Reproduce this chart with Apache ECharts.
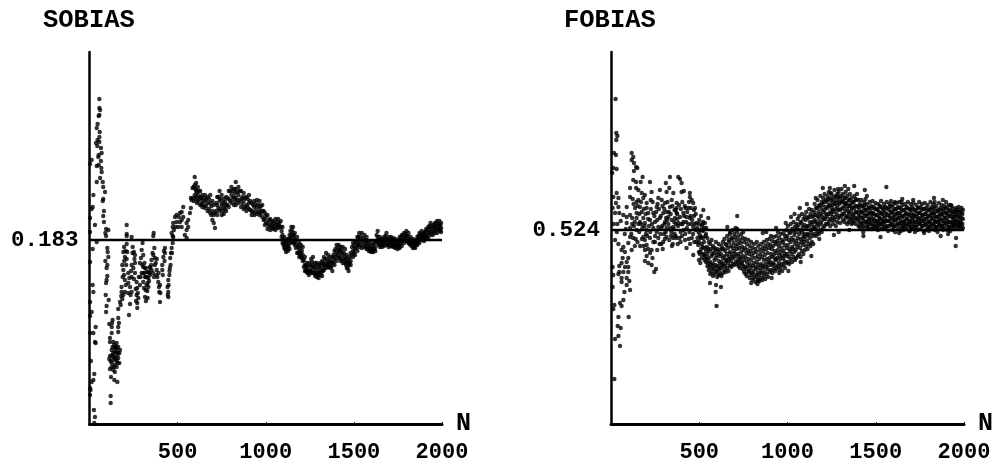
<!DOCTYPE html>
<html><head><meta charset="utf-8">
<style>html,body{margin:0;padding:0;background:#fff}#c{width:997px;height:470px}</style>
<script src="https://cdn.jsdelivr.net/npm/echarts@6/dist/echarts.min.js"></script>
</head><body><div id="c"></div>
<script>
// All bias values are in thousandths (183 = 0.183).
const panelTitles = ['SOBIAS', 'FOBIAS'];
const xTicks = [500, 1000, 1500, 2000];
const sobiasMean = 183;
const fobiasMean = 524;

const sobiasEarly = [
[56,324],[56,315],[60,313],[52,307],[56,308],[46,299],[41,295],[58,291],[56,286],[46,283],[37,280],[56,281],[44,277],[65,275],[52,268],[69,270],[50,266],[65,262],[12,263],[3,259],[41,257],[52,258],[67,255],[69,251],[60,245],[41,241],[75,241],[78,236],[88,231],[22,228],[78,224],[75,222],[18,216],[12,214],[82,212],[78,207],[3,205],[82,201],[31,198],[3,191],[94,194],[107,193],[90,190],[211,198],[211,189],[364,190],
[41,181],[18,174],[3,161],[18,138],[22,131],[3,121],[12,111],[3,107],[35,96],[3,90],[22,90],[31,81],[35,80],[8,62],[27,49],[22,43],[12,41],[3,35],[6,33],[3,28],[25,13],[31,6],[27,0],
[94,187],[101,175],[103,171],[107,166],[90,162],[101,158],[97,155],[101,147],[97,143],[94,140],[92,128],[109,123],[97,117],[94,111],
[131,103],[112,99],[128,100],[126,96],[126,90],[163,105],[167,100],[163,96],[163,91],[116,85],[116,81],[135,81],[154,80],[163,76],[144,75],[173,73],[126,73],[154,71],[135,70],[169,70],[116,67],[144,66],[163,65],[112,64],[135,63],[154,62],[169,60],[144,58],[126,56],[154,56],[116,54],[135,53],[144,51],[122,46],[141,43],[158,41],[120,27],[120,20],[150,76],[131,76],[158,68],[126,60],[138,56],[163,70],[144,71],[135,66],[154,75],[120,62],[128,68],[150,64],[140,78],[160,60],
[211,179],[196,176],[192,171],[214,171],[201,166],[211,164],[186,158],[192,153],[196,148],[201,143],[182,136],[182,131],[201,131],[192,128],[173,121],[177,118],[163,114],
[245,176],[252,171],[258,168],[239,158],[258,160],[249,155],[220,150],[239,146],[258,150],[220,140],[230,136],[220,130],[239,131],[267,141],[271,135],[286,138],[267,128],[277,125],[271,120],[271,115],[230,119],[224,108],
[301,180],[296,173],[305,168],[286,160],[305,156],[320,155],[296,150],[334,151],[315,146],[334,145],[305,141],[324,138],[334,136],[309,135],[315,126],[330,125],[320,122],[324,151],[315,155],[305,150],[320,146],[330,140],[340,150],[345,155],[312,160],
[368,175],[362,168],[371,165],[352,163],[371,158],[352,153],[381,153],[343,148],[366,146],[385,146],[390,141],[400,138],[396,131],[400,121],
[428,175],[428,170],[419,166],[413,158],[413,153],[460,158],[456,155],[453,148],[447,143],[443,136],[447,131],[447,126],[472,180],[466,175],[462,170],
[211,187],[239,186],[362,187],[472,187],[551,185],[541,188],
[532,216],[523,211],[513,210],[494,208],[485,206],[494,201],[475,200],[513,201],[532,206],[504,196],[479,193],[523,203],[466,190],[507,206],[488,196],[472,196],[523,196],[551,200],[551,193],[560,196],[560,203],[570,210],[579,223],
[205,172],[197,162],[208,158],[188,146],[206,138],[186,124],[180,127],[244,170],[255,164],[236,152],[252,144],[226,145],[233,128],[262,134],[280,146],[274,130],[264,122],[292,165],[300,158],[290,146],[310,150],[326,146],[338,142],[318,133],[328,132],[342,156],[358,170],[376,160],[360,150],[350,158],[378,148],[392,150],[402,130],[394,136],[382,164],[426,162],[422,172],[416,148],[444,128],[449,138],[454,152],[458,165],[468,170],[475,186]
];

// rows: N followed by the values read at that N
const sobiasBand = [
[575,225,215],[585,235,225],[597,246,238,228],[605,240,232,226],[615,236,228,222],[628,232,226,218],[640,228,222,216],[655,228,222,215],[670,226,220,212],[685,228,220,210],[697,222,212,203],[705,218,208,200],[712,210,195],[725,226,218,208],[738,232,222,212],[750,228,218,208],[762,224,216,209],[775,226,218,212],[790,232,224,216],[805,236,228,220],[820,234,226,218],[830,241,234,225,218],[845,236,228,220],[860,232,224,216],[875,230,222,214],[890,226,218,212],[905,228,220,214],[920,220,212,208],[935,222,216,208],[950,223,216,209],[965,222,214,208],[980,218,212,206],[995,210,204,198],[1010,208,200,194],[1025,204,198,193],[1040,202,197,194],[1055,204,198,193],[1070,204,198,195],[1085,202,196],[1095,196,188,180],[1105,186,180,175],[1115,180,174,171],[1125,184,176,172],[1135,188,180,174],[1145,196,188,181],[1155,196,188,180],[1165,190,184,178],[1178,186,178,170],[1190,180,172,166],[1200,178,170,166],[1210,176,168,162],[1222,166,158,152],[1232,160,154,151],[1245,160,152,148],[1258,164,156,150],[1268,166,158,150],[1280,160,152,147],[1290,160,150,146],[1300,158,150,145],[1310,160,152,148],[1320,162,154,147],[1330,166,158,153],[1342,170,160,155],[1354,168,160,156],[1365,166,158,155],[1378,166,160,152],[1390,172,164,158],[1402,178,170,162],[1414,178,172,165],[1425,176,170,162],[1437,176,168,160],[1450,174,166,160],[1460,168,160,155],[1470,164,158,152],[1482,170,162,158],[1495,180,172,166],[1507,180,174,168],[1520,186,178,172],[1530,190,182,176],[1545,190,182,175],[1560,188,182,176],[1572,186,180,174],[1585,182,176,172],[1598,180,174,171],[1610,178,173,171],[1622,182,176,172],[1635,192,186,180],[1648,186,180,176],[1660,184,180,176],[1672,186,181,177],[1685,190,184,178],[1698,186,180,176],[1710,186,181,177],[1722,185,180,176],[1735,184,179,175],[1748,182,178,174],[1760,186,180,175],[1772,188,182,177],[1785,190,185,180],[1798,192,187,182],[1810,190,184,180],[1822,186,181,178],[1835,184,179,175],[1848,182,178,175],[1860,186,181,178],[1872,190,185,180],[1885,192,187,183],[1898,190,186,182],[1910,194,188,184],[1922,196,190,185],[1935,200,194,188],[1948,198,192,188],[1960,200,195,190],[1972,202,196,190],[1985,202,197,192],[1995,200,195,191]
];

const sobiasBandFill = [
[591,236,222],[601,234,224],[610,231,220],[622,232,224],[634,225,219],[648,225,218],[662,224,217],[678,224,214],[691,217,208],[718,220,212],[731,226,215],[744,224,214],[756,220,212],[769,221,214],[782,225,218],[798,232,222],[812,232,224],[826,230,221],[838,231,223],[852,232,222],[868,226,219],[882,225,216],[897,224,216],[912,222,213],[928,218,211],[943,219,212],[958,218,211],[972,217,210],[988,212,203],[1002,207,200],[1017,203,197],[1032,201,196],[1047,200,195],[1062,201,196],[1077,200,197],[1090,192,186],[1100,184,178],[1110,177,174],[1120,180,175],[1130,184,177],[1140,192,184],[1150,192,185],[1160,188,181],[1171,182,175],[1184,176,170],[1195,175,168],[1205,172,165],[1216,163,156],[1227,157,152],[1238,156,150],[1252,158,152],[1263,161,153],[1274,156,150],[1285,156,149],[1295,154,148],[1305,156,150],[1315,158,150],[1325,160,152],[1336,164,157],[1348,164,158],[1360,162,157],[1372,162,156],[1384,168,160],[1396,174,166],[1408,175,168],[1420,173,166],[1431,172,164],[1444,170,163],[1455,164,158],[1465,161,155],[1476,166,160],[1489,176,168],[1501,177,170],[1513,182,175],[1525,186,179],[1538,186,178],[1552,185,179],[1566,183,177],[1578,179,174],[1592,177,172],[1604,175,172],[1616,180,174],[1629,188,182],[1642,183,178],[1654,182,178],[1666,183,179],[1679,187,181],[1692,183,178],[1704,183,179],[1716,183,178],[1728,182,177],[1742,180,176],[1754,183,177],[1766,185,179],[1778,187,182],[1792,189,184],[1804,187,182],[1816,183,179],[1829,181,177],[1842,180,176],[1854,183,179],[1866,187,182],[1879,189,185],[1892,188,184],[1904,191,186],[1916,193,187],[1929,197,191],[1942,195,190],[1954,197,192],[1966,199,193],[1978,199,194],[1990,198,193]
];

const fobiasEarly = [
[26,655],[30,621],[36,618],[30,614],[17,601],[28,599],[13,586],[32,585],[7,581],[117,601],[126,597],[117,594],[130,591],[142,587],[149,586],[130,583],[126,574],[142,572],[168,572],[179,577],[221,572],[32,561],[13,557],[42,556],[28,551],[9,546],[42,547],[23,541],[47,541],[36,530],
[108,566],[142,566],[155,564],[174,561],[192,559],[108,557],[123,555],[145,552],[183,556],[164,547],[136,546],[145,541],[174,542],[202,546],[89,547],[70,539],[89,537],[108,539],[145,536],[183,536],[211,541],[164,532],[192,531],[89,531],[108,526],[230,562],[225,554],[259,547],[240,541],[221,534],[249,532],[277,536],[306,532],[315,542],[334,547],[277,564],[311,571],[334,577],[381,577],[391,575],[400,571],[330,566],[315,562],[353,561],[400,562],[413,563],[447,561],[447,557],[457,554],[466,551],[476,546],[438,546],[372,551],[344,554],[306,551],[287,554],[268,556],[372,541],[410,541],[428,537],[447,536],[523,544],[551,536],[532,531],[485,531],[466,527],[410,532],[381,531],[353,527],[315,526],[268,527],[523,524],[715,538],[659,527],[715,525],[749,522],[674,522],[202,524],[145,524],[259,522],[344,534],[362,536],[391,537],[372,546],[296,541],[325,537],[202,551],[155,554],
[23,514],[42,510],[70,507],[98,511],[126,516],[108,517],[60,504],[79,502],[117,504],[66,496],[98,496],[89,492],[60,491],[9,487],[47,488],[79,487],[98,487],[47,482],[70,482],[98,482],[13,479],[42,480],[60,476],[89,476],[104,473],[60,472],[89,469],[9,467],[108,464],[76,462],[70,454],[51,451],[60,448],[19,449],[13,445],[42,437],[100,437],[38,428],[55,426],[42,418],[23,415],[51,408],[19,375],
[192,514],[183,517],[221,516],[202,509],[249,512],[192,504],[230,504],[221,501],[202,498],[293,505],[192,493],[211,491],[230,489],[255,485],[245,482],[268,516],[296,512],[315,517],[366,518],[419,514],[394,512],[428,506],[466,499],[494,509],
[115,520],[130,528],[160,522],[175,515],[190,528],[205,518],[240,526],[250,518],[280,520],[290,528],[310,522],[325,530],[340,518],[355,525],[370,516],[380,528],[395,522],[405,530],[420,520],[430,526],[440,515],[455,530],[465,520],[480,524],[490,516],[450,538],[398,530],[360,544],[335,526],[300,520],[240,512],[215,528],[170,530],[150,512],[135,508],[120,530],[78,520],[55,533],[33,522],[15,530],[84,525],[375,540],[418,548],[438,530],[470,538],[485,512],[350,510],[330,514],[275,510],
[561,471],[595,469],[623,467],[593,462],[598,448],
[128,550],[150,548],[160,540],[170,552],[186,545],[196,540],[210,535],[226,545],[236,552],[246,538],[256,542],[264,550],[272,545],[282,538],[292,548],[302,545],[312,536],[320,552],[328,542],[338,540],[348,548],[358,532],[366,544],[376,535],[386,549],[396,545],[404,552],[414,538],[422,546],[432,542],[442,552],[452,546],[460,534],[470,544],[480,540],[488,526],[500,534],[510,538],[518,530],[540,526],[120,536],[135,532],[155,530],[178,526],[198,520],[222,522],[232,530],[262,534],[285,526],[302,530],[318,534],[342,522],[352,516],[368,530],[388,516],[412,524],[426,532],[444,522],[458,516],[474,530],[496,522],[508,516],
[140,515],[165,508],[185,508],[210,505],[235,496],[262,504],[285,510],[305,515],[345,508],[360,520],[378,510],[402,518],[448,510],[472,512],[498,502]
];

const fobiasBand = [
[498,530,512,494],[506,524,502,491],[514,528,510,496],[522,532,516,500],[530,526,506,494],[538,520,503,492],[546,516,500,488],[554,512,496,484],[562,510,492,480],[570,514,498,482],[578,508,490,478],[586,506,494,480],[594,512,496,483],[602,505,488,477],[610,510,493,479],[618,504,490,480],[626,508,492,478],[634,512,496,481],[642,515,498,484],[650,510,494,482],[658,518,500,486],[666,514,497,483],[674,520,502,488],[682,516,500,487],[690,524,506,490],[698,520,503,489],[706,526,508,492],[714,522,505,490],[722,518,500,488],[730,514,497,486],[738,520,502,490],[746,516,498,485],[754,512,494,482],[762,515,497,480],[770,510,492,478],[778,514,495,482],[786,508,490,476],[794,512,494,479],[802,506,488,474],[810,510,491,476],[818,505,487,472],[826,512,492,477],[834,508,489,474],[842,504,486,473],[850,510,490,476],[858,506,488,474],[866,512,494,478],[874,508,490,475],[882,514,495,480],[890,510,492,477],[898,515,496,482],[906,518,500,484],[914,513,497,481],[922,517,499,485],[930,512,495,483],[938,518,501,486],[946,522,504,488],[954,516,499,484],[962,520,502,487],[970,514,498,483],[978,521,503,489],[986,518,500,486],[994,524,506,491],[1002,528,509,492],[1010,522,505,490],[1018,530,512,495],[1026,525,507,492],[1034,532,514,497],[1042,527,510,494],[1050,530,513,496],[1058,535,516,498],[1066,538,520,500],[1074,532,515,497],[1082,540,522,503],[1090,535,518,500],[1098,538,520,504],[1106,542,526,508],[1114,536,520,505],[1122,545,528,510],[1130,540,524,508],[1138,544,530,512],[1146,538,526,510],[1154,550,534,520],[1162,546,532,518],[1170,554,538,522],[1178,548,536,520],[1186,558,540,524],[1194,552,538,522],[1202,556,542,526],[1210,560,544,528],[1218,554,540,530],[1226,558,546,530],[1234,562,548,532],[1242,556,542,528],[1250,560,546,534],[1258,554,544,530],[1266,564,550,534],[1274,558,545,528],[1282,560,548,532],[1290,562,552,536],[1298,556,544,531],[1306,565,552,538],[1314,560,546,534],[1322,556,548,532],[1330,562,550,536],[1338,558,545,530],[1346,554,542,532],[1354,560,548,534],[1362,556,544,530],[1370,552,540,531],[1378,558,546,533],[1386,555,542,530],[1394,560,548,536],[1402,554,540,528],[1410,550,538,527],[1418,554,542,530],[1426,548,536,526],[1434,552,540,528],[1442,555,544,532],[1450,550,538,527],[1458,546,534,526],[1466,552,541,530],[1474,548,537,525],[1482,553,540,528],[1490,547,535,526],[1498,551,539,527],[1506,545,533,525],[1514,550,538,529],[1522,548,536,526],[1530,553,541,530],[1538,546,534,525],[1546,550,538,527],[1554,547,536,528],[1562,552,540,526],[1570,546,533,523],[1578,550,538,528],[1586,553,542,530],[1594,547,535,524],[1602,550,537,527],[1610,545,534,522],[1618,551,540,529],[1626,547,536,525],[1634,552,541,531],[1642,546,533,523],[1650,549,537,526],[1658,544,532,524],[1666,550,539,528],[1674,547,535,525],[1682,552,540,530],[1690,545,533,523],[1698,550,538,527],[1706,547,536,526],[1714,551,539,529],[1722,544,532,522],[1730,549,537,527],[1738,546,534,524],[1746,552,541,531],[1754,547,535,525],[1762,550,538,528],[1770,545,533,523],[1778,551,540,530],[1786,546,535,524],[1794,549,537,526],[1802,544,532,523],[1810,552,539,528],[1818,547,536,525],[1826,550,541,530],[1834,546,533,524],[1842,548,537,527],[1850,543,532,522],[1858,551,538,529],[1866,546,535,525],[1874,549,540,528],[1882,545,533,524],[1890,548,536,526],[1898,552,541,531],[1906,546,534,524],[1914,549,538,527],[1922,544,532,523],[1930,548,537,526],[1938,545,535,528],[1946,542,533,525],[1954,546,538,529],[1962,544,534,526],[1970,547,537,528],[1978,543,533,525],[1986,546,536,527],[1994,544,535,526],
[1325,568],[1378,568],[1560,567],[1290,522],[1090,515],[1040,540],[830,470],[794,471],[1955,516],[1350,524],[1430,518],[1830,556],[1880,554],[1650,555],[1450,558],[1200,566],[1240,566],
[1287,565],[1344,565],[1438,564],[1245,561],[1527,517],[1263,519],[1953,508],[953,481],[834,473],[1712,554],[1834,552],[1925,549],[1608,552],[1646,552],[1632,521],[1693,523],[1774,521],[1868,518],[1910,520],[1429,522],[1513,524],[1110,550],[1160,556],[1070,546],[1020,537],[990,531],[935,526],[880,522],[860,521],[1180,515],[1135,498],[1075,492],[1005,483],[910,476]
];

const fobiasBandFill = [
[503,519,500],[511,517,505],[519,523,507],[527,512,499],[535,518,497],[543,507,495],[551,505,491],[559,503,487],[567,505,489],[575,500,485],[583,501,486],[591,504,489],[599,499,482],[607,502,486],[615,498,484],[623,500,486],[631,505,488],[639,505,490],[647,503,488],[655,509,493],[663,506,491],[671,512,495],[679,508,493],[687,515,497],[695,511,496],[703,517,500],[711,514,498],[719,510,494],[727,506,492],[735,511,495],[743,507,491],[751,504,488],[759,506,487],[767,501,485],[775,504,488],[783,500,483],[791,503,486],[799,498,481],[807,501,483],[815,496,479],[823,502,485],[831,498,481],[839,495,479],[847,500,483],[855,497,481],[863,503,486],[871,499,482],[879,505,487],[887,501,485],[895,506,489],[903,509,492],[911,505,489],[919,508,491],[927,503,489],[935,510,494],[943,513,496],[951,508,491],[959,511,495],[967,506,490],[975,512,496],[983,509,493],[991,515,498],[999,518,500],[1007,514,497],[1015,521,503],[1023,516,500],[1031,523,505],[1039,519,502],[1047,522,504],[1055,526,507],[1063,529,510],[1071,524,506],[1079,531,512],[1087,527,509],[1095,529,512],[1103,534,517],[1111,528,513],[1119,537,519],[1127,532,516],[1135,537,521],[1143,532,518],[1151,542,527],[1159,539,525],[1167,546,530],[1175,542,528],[1183,549,532],[1191,545,530],[1199,549,534],[1207,552,536],[1215,547,535],[1223,552,538],[1231,555,540],[1239,549,535],[1247,553,540],[1255,549,537],[1263,557,542],[1271,551,537],[1279,554,540],[1287,557,544],[1295,550,538],[1303,558,545],[1311,553,540],[1319,552,540],[1327,556,543],[1335,551,538],[1343,548,537],[1351,554,541],[1359,550,537],[1367,546,535],[1375,552,539],[1383,548,536],[1391,554,542],[1399,547,534],[1407,544,532],[1415,548,536],[1423,542,531],[1431,546,534],[1439,549,538],[1447,544,532],[1455,540,530],[1463,546,535],[1471,542,531],[1479,546,534],[1487,541,530],[1495,545,533],[1503,539,529],[1511,544,533],[1519,542,531],[1527,547,535],[1535,540,530],[1543,544,532],[1551,542,532],[1559,546,533],[1567,539,528],[1575,544,533],[1583,548,536],[1591,541,529],[1599,543,532],[1607,539,528],[1615,545,534],[1623,541,530],[1631,546,536],[1639,539,528],[1647,543,531],[1655,538,528],[1663,544,533],[1671,541,530],[1679,546,535],[1687,539,528],[1695,544,532],[1703,541,531],[1711,545,534],[1719,538,527],[1727,543,532],[1735,540,529],[1743,546,536],[1751,541,530],[1759,544,533],[1767,539,528],[1775,545,535],[1783,540,529],[1791,543,531],[1799,538,527],[1807,545,533],[1815,541,530],[1823,545,535],[1831,539,528],[1839,542,532],[1847,537,527],[1855,544,533],[1863,540,530],[1871,544,534],[1879,539,528],[1887,542,531],[1895,546,536],[1903,540,529],[1911,543,532],[1919,538,527],[1927,542,531],[1935,540,531],[1943,537,529],[1951,542,533],[1959,539,530],[1967,542,532],[1975,538,529],[1983,541,531],[1991,540,530]
];

const flat = rows => rows.flatMap(r => r.slice(1).map(v => [r[0], v]));
const black = '#000';
const mono = '"Liberation Mono", monospace';

function xAxis(i) {
  return {
    gridIndex: i, type: 'value', min: 0, max: 2000, interval: 500,
    name: 'N', nameLocation: 'end', nameGap: 14,
    nameTextStyle: { fontFamily: mono, fontWeight: 'bold', fontSize: 25, color: black, verticalAlign: 'middle' },
    axisLine: { show: true, onZero: false, lineStyle: { color: black, width: 3 } },
    axisTick: { show: true, inside: true, length: 2, customValues: xTicks, lineStyle: { color: black, width: 1 } },
    axisLabel: { customValues: xTicks, margin: 17, fontFamily: mono, fontWeight: 'bold', fontSize: 22, color: black,
      formatter: v => String(v) },
    splitLine: { show: false }
  };
}
function yAxis(i, min, max, mean) {
  return {
    gridIndex: i, type: 'value', min, max,
    axisLine: { show: true, onZero: false, lineStyle: { color: black, width: 2.5 } },
    axisTick: { show: false },
    axisLabel: { customValues: [mean], margin: 11, fontFamily: mono, fontWeight: 'bold', fontSize: 22.5, color: black,
      formatter: v => (v / 1000).toFixed(3) },
    splitLine: { show: false }
  };
}
function dots(i, data) {
  return { type: 'scatter', xAxisIndex: i, yAxisIndex: i, data, symbol: 'circle', symbolSize: 4.4,
    clip: false, silent: true, itemStyle: { color: black }, animation: false };
}
function meanLine(i, v) {
  return { type: 'line', xAxisIndex: i, yAxisIndex: i, data: [[0, v], [2000, v]], showSymbol: false, silent: true,
    lineStyle: { color: black, width: 2.5 }, animation: false, z: 3 };
}

const chart = echarts.init(document.getElementById('c'), null, { renderer: 'canvas' });
chart.setOption({
  animation: false,
  backgroundColor: '#fff',
  title: [
    { text: panelTitles[0], left: 38, top: 3, textStyle: { fontFamily: mono, fontWeight: 'bold', fontSize: 25.5, color: black } },
    { text: panelTitles[1], left: 559, top: 3, textStyle: { fontFamily: mono, fontWeight: 'bold', fontSize: 25.5, color: black } }
  ],
  grid: [
    { left: 89.5, top: 52, width: 352.5, height: 372 },
    { left: 611, top: 52, width: 353, height: 372 }
  ],
  xAxis: [xAxis(0), xAxis(1)],
  yAxis: [yAxis(0, -1, 371, sobiasMean), yAxis(1, 330, 702, fobiasMean)],
  series: [
    dots(0, sobiasEarly.concat(flat(sobiasBand), flat(sobiasBandFill))),
    dots(1, fobiasEarly.concat(flat(fobiasBand), flat(fobiasBandFill))),
    meanLine(0, sobiasMean),
    meanLine(1, fobiasMean)
  ]
});
</script></body></html>
